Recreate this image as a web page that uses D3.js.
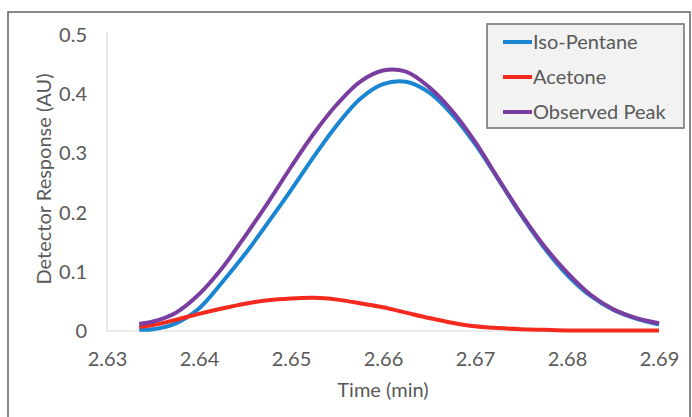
<!DOCTYPE html>
<html><head><meta charset="utf-8">
<script src="https://cdn.jsdelivr.net/npm/d3@7"></script>
<style>body{margin:0;background:#fff}svg{display:block}text{font-family:Lato,"Open Sans",sans-serif}</style>
</head><body>
<svg id="c" width="692" height="417"></svg>
<script>
const times = [2.6335,2.635,2.6375,2.64,2.6425,2.645,2.6475,2.65,2.6525,2.655,2.6575,2.66,2.6625,2.665,2.6675,2.67,2.6725,2.675,2.6775,2.68,2.6825,2.685,2.6875,2.69];
const isoPentane = [0.002,0.003,0.013,0.038,0.082,0.130,0.183,0.238,0.295,0.348,0.392,0.417,0.421,0.403,0.366,0.316,0.257,0.196,0.141,0.095,0.060,0.036,0.021,0.011];
const acetone = [0.007,0.010,0.019,0.029,0.038,0.046,0.052,0.055,0.056,0.053,0.047,0.040,0.031,0.022,0.014,0.008,0.005,0.003,0.002,0.001,0.001,0.001,0.001,0.001];
const observed = [0.012,0.016,0.031,0.062,0.106,0.160,0.217,0.277,0.334,0.383,0.421,0.440,0.438,0.412,0.372,0.320,0.258,0.198,0.144,0.099,0.062,0.037,0.022,0.013];
const xTicks = [2.63,2.64,2.65,2.66,2.67,2.68,2.69];
const yTicks = [0,0.1,0.2,0.3,0.4,0.5];
const seriesNames = ["Iso-Pentane","Acetone","Observed Peak"];
const seriesColors = ["#1a86d1","#f42a1f","#7a3ea0"];
const seriesData = [isoPentane, acetone, observed];

const svg = d3.select("#c");
const x = d3.scaleLinear().domain([2.63,2.69]).range([107,659]);
const y = d3.scaleLinear().domain([0,0.5]).range([331,35]);

// outer frame
svg.append("rect").attr("x",8).attr("y",12).attr("width",682).attr("height",430)
  .attr("fill","none").attr("stroke","#6a6a6a").attr("stroke-width",1.6);

// axes lines
svg.append("line").attr("x1",107).attr("x2",107).attr("y1",32).attr("y2",331).attr("stroke","#d9d9d9").attr("stroke-width",1.2);
svg.append("line").attr("x1",107).attr("x2",659).attr("y1",331).attr("y2",331).attr("stroke","#d9d9d9").attr("stroke-width",1.2);

const fs = 20, tc = "#595959";
const yAxis = d3.axisLeft(y).tickValues(yTicks).tickSize(0).tickPadding(20).tickFormat(d=>d===0?"0":d3.format(".1f")(d));
const gy = svg.append("g").attr("transform","translate(107,0)").call(yAxis);
gy.select(".domain").remove();
gy.selectAll("text").attr("font-size",fs).attr("fill",tc).attr("font-family","Lato");

const xAxis = d3.axisBottom(x).tickValues(xTicks).tickSize(0).tickPadding(21).tickFormat(d3.format(".2f"));
const gx = svg.append("g").attr("transform","translate(0,331)").call(xAxis);
gx.select(".domain").remove();
gx.selectAll("text").attr("font-size",fs).attr("fill",tc).attr("font-family","Lato");

// axis titles
svg.append("text").attr("x",383).attr("y",397).attr("text-anchor","middle").attr("font-size",fs).attr("fill",tc).text("Time (min)");
svg.append("text").attr("transform","translate(51,179) rotate(-90)").attr("text-anchor","middle").attr("font-size",fs).attr("fill",tc).text("Detector Response (AU)");

// lines
const line = d3.line().x(d=>x(d[0])).y(d=>y(d[1])).curve(d3.curveCatmullRom.alpha(0.5));
seriesData.forEach((vals,i)=>{
  svg.append("path").datum(times.map((t,j)=>[t,vals[j]]))
    .attr("d",line).attr("fill","none").attr("stroke",seriesColors[i]).attr("stroke-width",4).attr("stroke-linejoin","round");
});

// legend
svg.append("rect").attr("x",487).attr("y",24).attr("width",197).attr("height",104)
  .attr("fill","#f2f2f2").attr("stroke","#6d6d6d").attr("stroke-width",1.5);
const ly = [42,77,112];
seriesNames.forEach((n,i)=>{
  svg.append("line").attr("x1",503).attr("x2",532).attr("y1",ly[i]).attr("y2",ly[i]).attr("stroke",seriesColors[i]).attr("stroke-width",4);
  svg.append("text").attr("x",533).attr("y",ly[i]).attr("dy","0.35em").attr("font-size",fs).attr("fill",tc).text(n);
});
</script>
</body></html>
